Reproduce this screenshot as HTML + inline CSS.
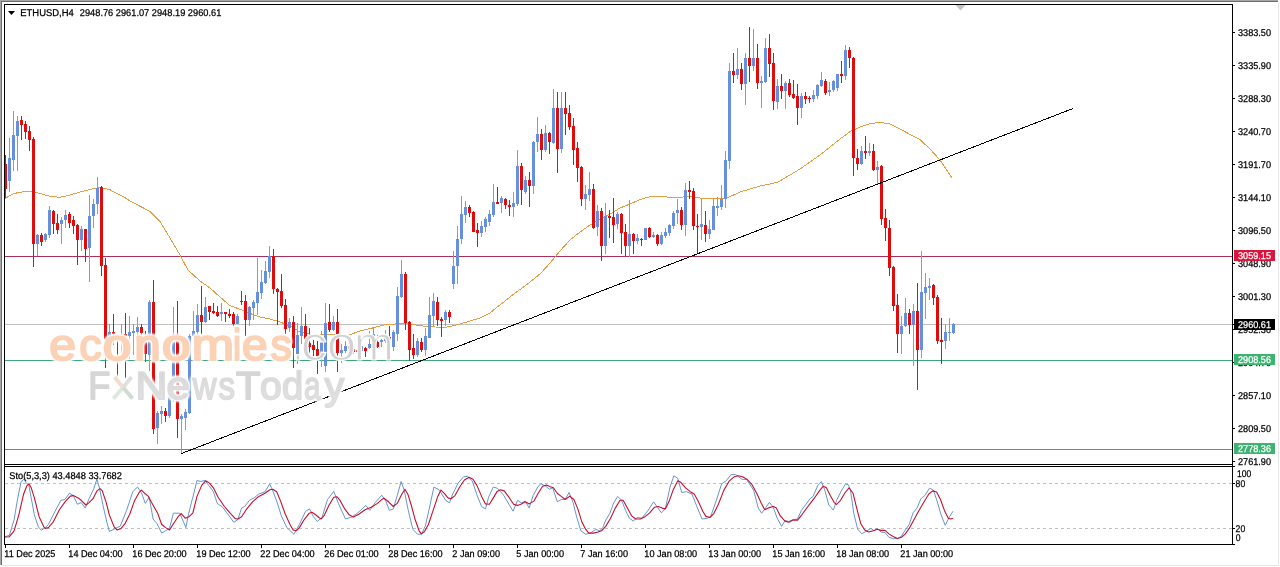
<!DOCTYPE html>
<html><head><meta charset="utf-8"><title>ETHUSD,H4</title>
<style>html,body{margin:0;padding:0;background:#fff;}body{width:1280px;height:567px;overflow:hidden;font-family:"Liberation Sans",sans-serif;}svg{display:block;will-change:transform;}text{font-family:"Liberation Sans",sans-serif;}.t{stroke-width:0.25px;stroke:#000;}.tw{stroke-width:0.25px;stroke:#fff;}</style>
</head><body>
<svg width="1280" height="567" viewBox="0 0 1280 567" text-rendering="geometricPrecision">
<defs>
<linearGradient id="gfx" x1="0" y1="0" x2="0" y2="1"><stop offset="0" stop-color="#d0d0d0"/><stop offset="1" stop-color="#e8e8e8"/></linearGradient>
<clipPath id="cm"><rect x="5" y="5" width="1227" height="459"/></clipPath>
<clipPath id="ci"><rect x="5" y="467" width="1227" height="77"/></clipPath>
<filter id="soft" x="-5%" y="-5%" width="110%" height="110%"><feGaussianBlur stdDeviation="0.45"/></filter>
<filter id="halo" x="-5%" y="-20%" width="110%" height="140%"><feMorphology in="SourceAlpha" operator="dilate" radius="0.9" result="d"/><feGaussianBlur in="d" stdDeviation="0.8" result="b"/><feFlood flood-color="#fff" flood-opacity="1"/><feComposite in2="b" operator="in" result="h"/><feMerge><feMergeNode in="h"/><feMergeNode in="h"/><feMergeNode in="SourceGraphic"/></feMerge></filter>
</defs>
<rect width="1280" height="567" fill="#fff"/>
<g shape-rendering="crispEdges">
<rect x="0" y="0" width="1278" height="1" fill="#a7a7a7"/>
<rect x="0" y="1" width="1278" height="1" fill="#6d6d6d"/>
<rect x="0" y="0" width="1" height="565" fill="#a7a7a7"/>
<rect x="1" y="1" width="1" height="564" fill="#6d6d6d"/>
<rect x="1278" y="2" width="1" height="564" fill="#e6e6e6"/>
<rect x="2" y="565" width="1277" height="1" fill="#e6e6e6"/>
</g>
<g clip-path="url(#cm)">
<g shape-rendering="crispEdges">
<rect x="5" y="324" width="1227" height="1" fill="#c0c0c0"/>
<rect x="5" y="256" width="1227" height="1" fill="#a83058"/>
<rect x="5" y="360" width="1227" height="1" fill="#3fa47a"/>
<rect x="5" y="449" width="1227" height="1" fill="#3fa47a"/>
</g>
<polyline points="5.0,198.5 12.0,194.4 17.5,192.7 25.0,191.5 30.0,191.2 40.0,193.5 50.0,196.4 60.0,197.3 70.0,195.0 80.0,192.0 90.0,189.5 97.6,187.8 105.0,188.5 110.0,189.8 120.0,195.0 125.0,197.7 130.0,201.0 140.0,206.2 150.0,211.5 160.0,221.5 170.0,238.0 180.0,255.0 188.0,270.0 200.0,281.0 210.0,288.0 220.0,297.0 230.0,305.6 240.0,309.3 250.0,313.5 260.0,317.0 270.0,319.0 280.0,322.0 290.0,326.0 300.0,332.0 310.0,334.0 320.0,334.3 335.0,334.4 347.5,335.6 360.0,331.0 372.5,328.0 385.0,324.8 397.5,323.8 410.0,324.0 422.5,326.0 435.0,327.0 445.0,327.2 450.0,326.6 460.0,324.0 470.0,321.0 480.0,318.0 490.0,313.0 496.0,308.0 505.0,301.0 515.0,293.0 525.0,286.0 535.0,278.0 541.0,273.0 550.0,263.0 560.0,251.0 570.0,240.0 580.0,232.0 590.0,225.0 600.0,219.0 610.0,214.0 620.0,208.0 630.0,204.0 640.0,199.6 650.0,196.6 660.0,196.6 670.0,197.2 680.0,197.2 690.0,196.6 700.0,198.0 710.0,198.4 720.0,199.0 727.0,198.0 740.0,192.0 750.0,189.0 760.0,186.0 770.0,184.0 778.0,182.0 790.0,175.0 800.0,169.0 810.0,162.0 820.0,155.0 830.0,147.0 840.0,139.0 850.0,131.6 860.0,127.0 870.0,123.6 880.0,122.4 890.0,124.0 900.0,129.0 910.0,134.4 920.0,139.6 930.0,149.0 940.0,160.0 946.0,169.0 952.0,178.0" fill="none" stroke="#e59e44" stroke-width="1" shape-rendering="crispEdges"/>
<g shape-rendering="crispEdges">
<rect x="5" y="155" width="1" height="43" fill="#c81a1a"/>
<rect x="4" y="164" width="3" height="25" fill="#e00b0b"/>
<rect x="9" y="138" width="1" height="54" fill="#7d9fd8"/>
<rect x="8" y="158" width="3" height="23" fill="#6490de"/>
<rect x="13" y="111" width="1" height="60" fill="#7d9fd8"/>
<rect x="12" y="135" width="3" height="25" fill="#6490de"/>
<rect x="17" y="116" width="1" height="55" fill="#7d9fd8"/>
<rect x="16" y="121" width="3" height="15" fill="#6490de"/>
<rect x="21" y="116" width="1" height="24" fill="#c81a1a"/>
<rect x="20" y="120" width="3" height="5" fill="#e00b0b"/>
<rect x="25" y="121" width="1" height="18" fill="#c81a1a"/>
<rect x="24" y="124" width="3" height="8" fill="#e00b0b"/>
<rect x="29" y="126" width="1" height="25" fill="#c81a1a"/>
<rect x="28" y="131" width="3" height="9" fill="#e00b0b"/>
<rect x="33" y="137" width="1" height="130" fill="#c81a1a"/>
<rect x="32" y="139" width="3" height="105" fill="#e00b0b"/>
<rect x="37" y="234" width="1" height="22" fill="#7d9fd8"/>
<rect x="36" y="235" width="3" height="9" fill="#6490de"/>
<rect x="41" y="233" width="1" height="13" fill="#c81a1a"/>
<rect x="40" y="235" width="3" height="7" fill="#e00b0b"/>
<rect x="45" y="233" width="1" height="9" fill="#7d9fd8"/>
<rect x="44" y="234" width="3" height="6" fill="#6490de"/>
<rect x="49" y="206" width="1" height="32" fill="#7d9fd8"/>
<rect x="48" y="210" width="3" height="25" fill="#6490de"/>
<rect x="53" y="210" width="1" height="24" fill="#c81a1a"/>
<rect x="52" y="211" width="3" height="13" fill="#e00b0b"/>
<rect x="57" y="214" width="1" height="20" fill="#c81a1a"/>
<rect x="56" y="223" width="3" height="7" fill="#e00b0b"/>
<rect x="61" y="217" width="1" height="27" fill="#7d9fd8"/>
<rect x="60" y="220" width="3" height="4" fill="#6490de"/>
<rect x="65" y="210" width="1" height="18" fill="#7d9fd8"/>
<rect x="64" y="215" width="3" height="5" fill="#6490de"/>
<rect x="69" y="212" width="1" height="16" fill="#c81a1a"/>
<rect x="68" y="214" width="3" height="9" fill="#e00b0b"/>
<rect x="73" y="216" width="1" height="18" fill="#c81a1a"/>
<rect x="72" y="220" width="3" height="6" fill="#e00b0b"/>
<rect x="77" y="224" width="1" height="41" fill="#c81a1a"/>
<rect x="76" y="225" width="3" height="15" fill="#e00b0b"/>
<rect x="81" y="226" width="1" height="25" fill="#7d9fd8"/>
<rect x="80" y="229" width="3" height="11" fill="#6490de"/>
<rect x="85" y="229" width="1" height="33" fill="#c81a1a"/>
<rect x="84" y="229" width="3" height="20" fill="#e00b0b"/>
<rect x="89" y="195" width="1" height="87" fill="#7d9fd8"/>
<rect x="88" y="216" width="3" height="32" fill="#6490de"/>
<rect x="93" y="199" width="1" height="29" fill="#7d9fd8"/>
<rect x="92" y="204" width="3" height="12" fill="#6490de"/>
<rect x="97" y="177" width="1" height="37" fill="#7d9fd8"/>
<rect x="96" y="188" width="3" height="16" fill="#6490de"/>
<rect x="101" y="186" width="1" height="90" fill="#c81a1a"/>
<rect x="100" y="187" width="3" height="79" fill="#e00b0b"/>
<rect x="105" y="258" width="1" height="110" fill="#c81a1a"/>
<rect x="104" y="265" width="3" height="74" fill="#e00b0b"/>
<rect x="109" y="324" width="1" height="13" fill="#7d9fd8"/>
<rect x="108" y="332" width="3" height="4" fill="#6490de"/>
<rect x="113" y="314" width="1" height="31" fill="#c81a1a"/>
<rect x="112" y="332" width="3" height="2" fill="#e00b0b"/>
<rect x="117" y="335" width="1" height="45" fill="#c81a1a"/>
<rect x="116" y="336" width="3" height="2" fill="#e00b0b"/>
<rect x="121" y="324" width="1" height="30" fill="#7d9fd8"/>
<rect x="120" y="336" width="3" height="2" fill="#6490de"/>
<rect x="125" y="313" width="1" height="65" fill="#c81a1a"/>
<rect x="124" y="334" width="3" height="2" fill="#e00b0b"/>
<rect x="129" y="316" width="1" height="43" fill="#7d9fd8"/>
<rect x="128" y="332" width="3" height="4" fill="#6490de"/>
<rect x="133" y="324" width="1" height="31" fill="#7d9fd8"/>
<rect x="132" y="331" width="3" height="2" fill="#6490de"/>
<rect x="137" y="317" width="1" height="19" fill="#7d9fd8"/>
<rect x="136" y="327" width="3" height="5" fill="#6490de"/>
<rect x="141" y="324" width="1" height="32" fill="#c81a1a"/>
<rect x="140" y="327" width="3" height="6" fill="#e00b0b"/>
<rect x="145" y="331" width="1" height="31" fill="#c81a1a"/>
<rect x="144" y="342" width="3" height="12" fill="#e00b0b"/>
<rect x="149" y="300" width="1" height="71" fill="#7d9fd8"/>
<rect x="148" y="302" width="3" height="53" fill="#6490de"/>
<rect x="153" y="280" width="1" height="154" fill="#c81a1a"/>
<rect x="152" y="302" width="3" height="127" fill="#e00b0b"/>
<rect x="157" y="411" width="1" height="33" fill="#7d9fd8"/>
<rect x="156" y="413" width="3" height="15" fill="#6490de"/>
<rect x="161" y="406" width="1" height="18" fill="#7d9fd8"/>
<rect x="160" y="411" width="3" height="3" fill="#6490de"/>
<rect x="165" y="408" width="1" height="14" fill="#c81a1a"/>
<rect x="164" y="411" width="3" height="5" fill="#e00b0b"/>
<rect x="169" y="393" width="1" height="25" fill="#7d9fd8"/>
<rect x="168" y="396" width="3" height="20" fill="#6490de"/>
<rect x="173" y="307" width="1" height="95" fill="#7d9fd8"/>
<rect x="172" y="334" width="3" height="43" fill="#6490de"/>
<rect x="177" y="301" width="1" height="137" fill="#c81a1a"/>
<rect x="176" y="334" width="3" height="85" fill="#e00b0b"/>
<rect x="181" y="414" width="1" height="39" fill="#7d9fd8"/>
<rect x="180" y="416" width="3" height="3" fill="#6490de"/>
<rect x="185" y="409" width="1" height="21" fill="#7d9fd8"/>
<rect x="184" y="412" width="3" height="6" fill="#6490de"/>
<rect x="189" y="334" width="1" height="80" fill="#7d9fd8"/>
<rect x="188" y="336" width="3" height="77" fill="#6490de"/>
<rect x="193" y="311" width="1" height="25" fill="#7d9fd8"/>
<rect x="192" y="331" width="3" height="5" fill="#6490de"/>
<rect x="197" y="304" width="1" height="32" fill="#7d9fd8"/>
<rect x="196" y="315" width="3" height="17" fill="#6490de"/>
<rect x="201" y="286" width="1" height="48" fill="#c81a1a"/>
<rect x="200" y="315" width="3" height="7" fill="#e00b0b"/>
<rect x="205" y="297" width="1" height="26" fill="#7d9fd8"/>
<rect x="204" y="307" width="3" height="15" fill="#6490de"/>
<rect x="209" y="306" width="1" height="14" fill="#c81a1a"/>
<rect x="208" y="306" width="3" height="6" fill="#e00b0b"/>
<rect x="213" y="303" width="1" height="11" fill="#c81a1a"/>
<rect x="212" y="311" width="3" height="2" fill="#e00b0b"/>
<rect x="217" y="306" width="1" height="11" fill="#c81a1a"/>
<rect x="216" y="312" width="3" height="4" fill="#e00b0b"/>
<rect x="221" y="303" width="1" height="18" fill="#7d9fd8"/>
<rect x="220" y="312" width="3" height="2" fill="#6490de"/>
<rect x="225" y="312" width="1" height="10" fill="#c81a1a"/>
<rect x="224" y="312" width="3" height="2" fill="#e00b0b"/>
<rect x="229" y="309" width="1" height="9" fill="#c81a1a"/>
<rect x="228" y="314" width="3" height="2" fill="#e00b0b"/>
<rect x="233" y="312" width="1" height="14" fill="#c81a1a"/>
<rect x="232" y="314" width="3" height="10" fill="#e00b0b"/>
<rect x="237" y="314" width="1" height="10" fill="#7d9fd8"/>
<rect x="236" y="316" width="3" height="8" fill="#6490de"/>
<rect x="241" y="291" width="1" height="14" fill="#c81a1a"/>
<rect x="240" y="301" width="3" height="1" fill="#e00b0b"/>
<rect x="245" y="295" width="1" height="41" fill="#c81a1a"/>
<rect x="244" y="301" width="3" height="19" fill="#e00b0b"/>
<rect x="249" y="306" width="1" height="20" fill="#7d9fd8"/>
<rect x="248" y="307" width="3" height="13" fill="#6490de"/>
<rect x="253" y="300" width="1" height="20" fill="#7d9fd8"/>
<rect x="252" y="302" width="3" height="6" fill="#6490de"/>
<rect x="257" y="258" width="1" height="57" fill="#7d9fd8"/>
<rect x="256" y="292" width="3" height="11" fill="#6490de"/>
<rect x="261" y="270" width="1" height="29" fill="#7d9fd8"/>
<rect x="260" y="282" width="3" height="11" fill="#6490de"/>
<rect x="265" y="261" width="1" height="23" fill="#7d9fd8"/>
<rect x="264" y="271" width="3" height="12" fill="#6490de"/>
<rect x="269" y="246" width="1" height="32" fill="#7d9fd8"/>
<rect x="268" y="256" width="3" height="16" fill="#6490de"/>
<rect x="273" y="249" width="1" height="45" fill="#c81a1a"/>
<rect x="272" y="256" width="3" height="33" fill="#e00b0b"/>
<rect x="277" y="288" width="1" height="37" fill="#c81a1a"/>
<rect x="276" y="289" width="3" height="3" fill="#e00b0b"/>
<rect x="281" y="274" width="1" height="34" fill="#c81a1a"/>
<rect x="280" y="291" width="3" height="15" fill="#e00b0b"/>
<rect x="285" y="299" width="1" height="35" fill="#c81a1a"/>
<rect x="284" y="305" width="3" height="24" fill="#e00b0b"/>
<rect x="289" y="318" width="1" height="14" fill="#7d9fd8"/>
<rect x="288" y="322" width="3" height="6" fill="#6490de"/>
<rect x="293" y="316" width="1" height="52" fill="#c81a1a"/>
<rect x="292" y="322" width="3" height="26" fill="#e00b0b"/>
<rect x="297" y="323" width="1" height="41" fill="#7d9fd8"/>
<rect x="296" y="335" width="3" height="19" fill="#6490de"/>
<rect x="301" y="307" width="1" height="37" fill="#7d9fd8"/>
<rect x="300" y="326" width="3" height="10" fill="#6490de"/>
<rect x="305" y="314" width="1" height="26" fill="#c81a1a"/>
<rect x="304" y="326" width="3" height="13" fill="#e00b0b"/>
<rect x="309" y="328" width="1" height="26" fill="#c81a1a"/>
<rect x="308" y="343" width="3" height="4" fill="#e00b0b"/>
<rect x="313" y="340" width="1" height="16" fill="#c81a1a"/>
<rect x="312" y="345" width="3" height="5" fill="#e00b0b"/>
<rect x="317" y="341" width="1" height="33" fill="#c81a1a"/>
<rect x="316" y="349" width="3" height="7" fill="#e00b0b"/>
<rect x="321" y="331" width="1" height="36" fill="#7d9fd8"/>
<rect x="320" y="342" width="3" height="12" fill="#6490de"/>
<rect x="325" y="303" width="1" height="69" fill="#7d9fd8"/>
<rect x="324" y="323" width="3" height="43" fill="#6490de"/>
<rect x="329" y="304" width="1" height="28" fill="#c81a1a"/>
<rect x="328" y="322" width="3" height="8" fill="#e00b0b"/>
<rect x="333" y="316" width="1" height="15" fill="#7d9fd8"/>
<rect x="332" y="322" width="3" height="8" fill="#6490de"/>
<rect x="337" y="309" width="1" height="63" fill="#c81a1a"/>
<rect x="336" y="322" width="3" height="31" fill="#e00b0b"/>
<rect x="341" y="344" width="1" height="19" fill="#7d9fd8"/>
<rect x="340" y="350" width="3" height="3" fill="#6490de"/>
<rect x="345" y="341" width="1" height="12" fill="#7d9fd8"/>
<rect x="344" y="346" width="3" height="5" fill="#6490de"/>
<rect x="349" y="345" width="1" height="5" fill="#c81a1a"/>
<rect x="348" y="346" width="3" height="3" fill="#e00b0b"/>
<rect x="353" y="347" width="1" height="7" fill="#c81a1a"/>
<rect x="352" y="349" width="3" height="3" fill="#e00b0b"/>
<rect x="357" y="348" width="1" height="6" fill="#c81a1a"/>
<rect x="356" y="350" width="3" height="2" fill="#e00b0b"/>
<rect x="361" y="345" width="1" height="7" fill="#7d9fd8"/>
<rect x="360" y="346" width="3" height="5" fill="#6490de"/>
<rect x="365" y="347" width="1" height="10" fill="#c81a1a"/>
<rect x="364" y="348" width="3" height="3" fill="#e00b0b"/>
<rect x="369" y="331" width="1" height="18" fill="#7d9fd8"/>
<rect x="368" y="344" width="3" height="4" fill="#6490de"/>
<rect x="373" y="327" width="1" height="10" fill="#7d9fd8"/>
<rect x="372" y="334" width="3" height="2" fill="#6490de"/>
<rect x="377" y="335" width="1" height="13" fill="#c81a1a"/>
<rect x="376" y="342" width="3" height="5" fill="#e00b0b"/>
<rect x="381" y="339" width="1" height="8" fill="#7d9fd8"/>
<rect x="380" y="340" width="3" height="2" fill="#6490de"/>
<rect x="385" y="330" width="1" height="13" fill="#7d9fd8"/>
<rect x="384" y="338" width="3" height="3" fill="#6490de"/>
<rect x="389" y="326" width="1" height="22" fill="#c81a1a"/>
<rect x="388" y="337" width="3" height="10" fill="#e00b0b"/>
<rect x="393" y="330" width="1" height="21" fill="#7d9fd8"/>
<rect x="392" y="332" width="3" height="15" fill="#6490de"/>
<rect x="397" y="287" width="1" height="54" fill="#7d9fd8"/>
<rect x="396" y="296" width="3" height="38" fill="#6490de"/>
<rect x="401" y="260" width="1" height="38" fill="#7d9fd8"/>
<rect x="400" y="274" width="3" height="23" fill="#6490de"/>
<rect x="405" y="272" width="1" height="58" fill="#c81a1a"/>
<rect x="404" y="274" width="3" height="49" fill="#e00b0b"/>
<rect x="409" y="321" width="1" height="40" fill="#c81a1a"/>
<rect x="408" y="322" width="3" height="28" fill="#e00b0b"/>
<rect x="413" y="334" width="1" height="25" fill="#c81a1a"/>
<rect x="412" y="348" width="3" height="7" fill="#e00b0b"/>
<rect x="417" y="338" width="1" height="19" fill="#7d9fd8"/>
<rect x="416" y="341" width="3" height="14" fill="#6490de"/>
<rect x="421" y="338" width="1" height="14" fill="#c81a1a"/>
<rect x="420" y="342" width="3" height="8" fill="#e00b0b"/>
<rect x="425" y="328" width="1" height="28" fill="#7d9fd8"/>
<rect x="424" y="336" width="3" height="14" fill="#6490de"/>
<rect x="429" y="297" width="1" height="41" fill="#7d9fd8"/>
<rect x="428" y="315" width="3" height="23" fill="#6490de"/>
<rect x="433" y="293" width="1" height="34" fill="#7d9fd8"/>
<rect x="432" y="301" width="3" height="15" fill="#6490de"/>
<rect x="437" y="297" width="1" height="29" fill="#c81a1a"/>
<rect x="436" y="302" width="3" height="18" fill="#e00b0b"/>
<rect x="441" y="317" width="1" height="20" fill="#c81a1a"/>
<rect x="440" y="319" width="3" height="2" fill="#e00b0b"/>
<rect x="445" y="310" width="1" height="16" fill="#7d9fd8"/>
<rect x="444" y="312" width="3" height="8" fill="#6490de"/>
<rect x="449" y="310" width="1" height="13" fill="#c81a1a"/>
<rect x="448" y="312" width="3" height="5" fill="#e00b0b"/>
<rect x="453" y="251" width="1" height="38" fill="#7d9fd8"/>
<rect x="452" y="266" width="3" height="18" fill="#6490de"/>
<rect x="457" y="226" width="1" height="58" fill="#7d9fd8"/>
<rect x="456" y="239" width="3" height="27" fill="#6490de"/>
<rect x="461" y="196" width="1" height="48" fill="#7d9fd8"/>
<rect x="460" y="214" width="3" height="25" fill="#6490de"/>
<rect x="465" y="201" width="1" height="22" fill="#7d9fd8"/>
<rect x="464" y="207" width="3" height="8" fill="#6490de"/>
<rect x="469" y="205" width="1" height="12" fill="#c81a1a"/>
<rect x="468" y="207" width="3" height="6" fill="#e00b0b"/>
<rect x="473" y="211" width="1" height="21" fill="#c81a1a"/>
<rect x="472" y="212" width="3" height="20" fill="#e00b0b"/>
<rect x="477" y="223" width="1" height="24" fill="#c81a1a"/>
<rect x="476" y="230" width="3" height="3" fill="#e00b0b"/>
<rect x="481" y="221" width="1" height="16" fill="#7d9fd8"/>
<rect x="480" y="226" width="3" height="7" fill="#6490de"/>
<rect x="485" y="217" width="1" height="15" fill="#7d9fd8"/>
<rect x="484" y="219" width="3" height="8" fill="#6490de"/>
<rect x="489" y="210" width="1" height="16" fill="#7d9fd8"/>
<rect x="488" y="214" width="3" height="8" fill="#6490de"/>
<rect x="493" y="184" width="1" height="33" fill="#7d9fd8"/>
<rect x="492" y="202" width="3" height="13" fill="#6490de"/>
<rect x="497" y="187" width="1" height="17" fill="#c81a1a"/>
<rect x="496" y="202" width="3" height="2" fill="#e00b0b"/>
<rect x="501" y="196" width="1" height="17" fill="#7d9fd8"/>
<rect x="500" y="198" width="3" height="5" fill="#6490de"/>
<rect x="505" y="198" width="1" height="11" fill="#c81a1a"/>
<rect x="504" y="199" width="3" height="6" fill="#e00b0b"/>
<rect x="509" y="200" width="1" height="16" fill="#c81a1a"/>
<rect x="508" y="205" width="3" height="2" fill="#e00b0b"/>
<rect x="513" y="192" width="1" height="25" fill="#7d9fd8"/>
<rect x="512" y="203" width="3" height="4" fill="#6490de"/>
<rect x="517" y="150" width="1" height="56" fill="#7d9fd8"/>
<rect x="516" y="166" width="3" height="38" fill="#6490de"/>
<rect x="521" y="163" width="1" height="42" fill="#c81a1a"/>
<rect x="520" y="166" width="3" height="24" fill="#e00b0b"/>
<rect x="525" y="176" width="1" height="18" fill="#7d9fd8"/>
<rect x="524" y="180" width="3" height="12" fill="#6490de"/>
<rect x="529" y="172" width="1" height="35" fill="#c81a1a"/>
<rect x="528" y="180" width="3" height="6" fill="#e00b0b"/>
<rect x="533" y="141" width="1" height="53" fill="#7d9fd8"/>
<rect x="532" y="142" width="3" height="44" fill="#6490de"/>
<rect x="537" y="117" width="1" height="35" fill="#7d9fd8"/>
<rect x="536" y="134" width="3" height="8" fill="#6490de"/>
<rect x="541" y="129" width="1" height="31" fill="#c81a1a"/>
<rect x="540" y="134" width="3" height="16" fill="#e00b0b"/>
<rect x="545" y="125" width="1" height="27" fill="#7d9fd8"/>
<rect x="544" y="133" width="3" height="17" fill="#6490de"/>
<rect x="549" y="132" width="1" height="22" fill="#c81a1a"/>
<rect x="548" y="133" width="3" height="9" fill="#e00b0b"/>
<rect x="553" y="89" width="1" height="55" fill="#7d9fd8"/>
<rect x="552" y="108" width="3" height="35" fill="#6490de"/>
<rect x="557" y="92" width="1" height="81" fill="#c81a1a"/>
<rect x="556" y="108" width="3" height="41" fill="#e00b0b"/>
<rect x="561" y="92" width="1" height="61" fill="#7d9fd8"/>
<rect x="560" y="108" width="3" height="41" fill="#6490de"/>
<rect x="565" y="92" width="1" height="43" fill="#c81a1a"/>
<rect x="564" y="108" width="3" height="6" fill="#e00b0b"/>
<rect x="569" y="105" width="1" height="25" fill="#c81a1a"/>
<rect x="568" y="113" width="3" height="14" fill="#e00b0b"/>
<rect x="573" y="118" width="1" height="47" fill="#c81a1a"/>
<rect x="572" y="126" width="3" height="24" fill="#e00b0b"/>
<rect x="577" y="142" width="1" height="40" fill="#c81a1a"/>
<rect x="576" y="148" width="3" height="20" fill="#e00b0b"/>
<rect x="581" y="166" width="1" height="40" fill="#c81a1a"/>
<rect x="580" y="167" width="3" height="32" fill="#e00b0b"/>
<rect x="585" y="185" width="1" height="25" fill="#7d9fd8"/>
<rect x="584" y="194" width="3" height="5" fill="#6490de"/>
<rect x="589" y="172" width="1" height="29" fill="#7d9fd8"/>
<rect x="588" y="189" width="3" height="6" fill="#6490de"/>
<rect x="593" y="184" width="1" height="45" fill="#c81a1a"/>
<rect x="592" y="189" width="3" height="39" fill="#e00b0b"/>
<rect x="597" y="205" width="1" height="31" fill="#7d9fd8"/>
<rect x="596" y="211" width="3" height="16" fill="#6490de"/>
<rect x="601" y="208" width="1" height="53" fill="#c81a1a"/>
<rect x="600" y="211" width="3" height="35" fill="#e00b0b"/>
<rect x="605" y="203" width="1" height="51" fill="#7d9fd8"/>
<rect x="604" y="216" width="3" height="30" fill="#6490de"/>
<rect x="609" y="210" width="1" height="28" fill="#c81a1a"/>
<rect x="608" y="216" width="3" height="2" fill="#e00b0b"/>
<rect x="613" y="198" width="1" height="45" fill="#c81a1a"/>
<rect x="612" y="217" width="3" height="8" fill="#e00b0b"/>
<rect x="617" y="212" width="1" height="17" fill="#7d9fd8"/>
<rect x="616" y="214" width="3" height="10" fill="#6490de"/>
<rect x="621" y="213" width="1" height="41" fill="#c81a1a"/>
<rect x="620" y="214" width="3" height="19" fill="#e00b0b"/>
<rect x="625" y="224" width="1" height="32" fill="#c81a1a"/>
<rect x="624" y="232" width="3" height="14" fill="#e00b0b"/>
<rect x="629" y="200" width="1" height="57" fill="#7d9fd8"/>
<rect x="628" y="234" width="3" height="12" fill="#6490de"/>
<rect x="633" y="233" width="1" height="21" fill="#c81a1a"/>
<rect x="632" y="234" width="3" height="7" fill="#e00b0b"/>
<rect x="637" y="234" width="1" height="10" fill="#7d9fd8"/>
<rect x="636" y="238" width="3" height="3" fill="#6490de"/>
<rect x="641" y="238" width="1" height="8" fill="#c81a1a"/>
<rect x="640" y="239" width="3" height="1" fill="#e00b0b"/>
<rect x="645" y="228" width="1" height="12" fill="#7d9fd8"/>
<rect x="644" y="228" width="3" height="12" fill="#6490de"/>
<rect x="649" y="227" width="1" height="11" fill="#c81a1a"/>
<rect x="648" y="228" width="3" height="9" fill="#e00b0b"/>
<rect x="653" y="232" width="1" height="6" fill="#7d9fd8"/>
<rect x="652" y="235" width="3" height="2" fill="#6490de"/>
<rect x="657" y="234" width="1" height="12" fill="#c81a1a"/>
<rect x="656" y="235" width="3" height="9" fill="#e00b0b"/>
<rect x="661" y="232" width="1" height="13" fill="#7d9fd8"/>
<rect x="660" y="235" width="3" height="9" fill="#6490de"/>
<rect x="665" y="228" width="1" height="10" fill="#7d9fd8"/>
<rect x="664" y="232" width="3" height="4" fill="#6490de"/>
<rect x="669" y="224" width="1" height="12" fill="#7d9fd8"/>
<rect x="668" y="225" width="3" height="8" fill="#6490de"/>
<rect x="673" y="211" width="1" height="18" fill="#7d9fd8"/>
<rect x="672" y="213" width="3" height="13" fill="#6490de"/>
<rect x="677" y="199" width="1" height="25" fill="#7d9fd8"/>
<rect x="676" y="210" width="3" height="3" fill="#6490de"/>
<rect x="681" y="207" width="1" height="23" fill="#c81a1a"/>
<rect x="680" y="210" width="3" height="15" fill="#e00b0b"/>
<rect x="685" y="183" width="1" height="53" fill="#7d9fd8"/>
<rect x="684" y="190" width="3" height="35" fill="#6490de"/>
<rect x="689" y="181" width="1" height="18" fill="#c81a1a"/>
<rect x="688" y="190" width="3" height="2" fill="#e00b0b"/>
<rect x="693" y="188" width="1" height="42" fill="#c81a1a"/>
<rect x="692" y="191" width="3" height="35" fill="#e00b0b"/>
<rect x="697" y="214" width="1" height="39" fill="#c81a1a"/>
<rect x="696" y="226" width="3" height="1" fill="#e00b0b"/>
<rect x="701" y="199" width="1" height="41" fill="#7d9fd8"/>
<rect x="700" y="224" width="3" height="3" fill="#6490de"/>
<rect x="705" y="211" width="1" height="31" fill="#c81a1a"/>
<rect x="704" y="225" width="3" height="9" fill="#e00b0b"/>
<rect x="709" y="220" width="1" height="19" fill="#7d9fd8"/>
<rect x="708" y="229" width="3" height="5" fill="#6490de"/>
<rect x="713" y="198" width="1" height="32" fill="#7d9fd8"/>
<rect x="712" y="206" width="3" height="24" fill="#6490de"/>
<rect x="717" y="197" width="1" height="19" fill="#7d9fd8"/>
<rect x="716" y="206" width="3" height="2" fill="#6490de"/>
<rect x="721" y="185" width="1" height="25" fill="#7d9fd8"/>
<rect x="720" y="199" width="3" height="8" fill="#6490de"/>
<rect x="725" y="151" width="1" height="57" fill="#7d9fd8"/>
<rect x="724" y="160" width="3" height="39" fill="#6490de"/>
<rect x="729" y="63" width="1" height="106" fill="#7d9fd8"/>
<rect x="728" y="71" width="3" height="90" fill="#6490de"/>
<rect x="733" y="53" width="1" height="30" fill="#c81a1a"/>
<rect x="732" y="71" width="3" height="4" fill="#e00b0b"/>
<rect x="737" y="48" width="1" height="31" fill="#7d9fd8"/>
<rect x="736" y="69" width="3" height="6" fill="#6490de"/>
<rect x="741" y="63" width="1" height="27" fill="#c81a1a"/>
<rect x="740" y="69" width="3" height="15" fill="#e00b0b"/>
<rect x="745" y="53" width="1" height="52" fill="#7d9fd8"/>
<rect x="744" y="58" width="3" height="26" fill="#6490de"/>
<rect x="749" y="27" width="1" height="55" fill="#c81a1a"/>
<rect x="748" y="58" width="3" height="8" fill="#e00b0b"/>
<rect x="753" y="29" width="1" height="42" fill="#7d9fd8"/>
<rect x="752" y="58" width="3" height="8" fill="#6490de"/>
<rect x="757" y="44" width="1" height="45" fill="#c81a1a"/>
<rect x="756" y="58" width="3" height="25" fill="#e00b0b"/>
<rect x="761" y="76" width="1" height="32" fill="#7d9fd8"/>
<rect x="760" y="81" width="3" height="2" fill="#6490de"/>
<rect x="765" y="38" width="1" height="45" fill="#7d9fd8"/>
<rect x="764" y="48" width="3" height="34" fill="#6490de"/>
<rect x="769" y="34" width="1" height="43" fill="#c81a1a"/>
<rect x="768" y="48" width="3" height="16" fill="#e00b0b"/>
<rect x="773" y="53" width="1" height="57" fill="#c81a1a"/>
<rect x="772" y="63" width="3" height="38" fill="#e00b0b"/>
<rect x="777" y="79" width="1" height="30" fill="#7d9fd8"/>
<rect x="776" y="86" width="3" height="16" fill="#6490de"/>
<rect x="781" y="74" width="1" height="25" fill="#c81a1a"/>
<rect x="780" y="86" width="3" height="5" fill="#e00b0b"/>
<rect x="785" y="81" width="1" height="28" fill="#7d9fd8"/>
<rect x="784" y="83" width="3" height="8" fill="#6490de"/>
<rect x="789" y="79" width="1" height="18" fill="#c81a1a"/>
<rect x="788" y="83" width="3" height="12" fill="#e00b0b"/>
<rect x="793" y="80" width="1" height="19" fill="#c81a1a"/>
<rect x="792" y="94" width="3" height="4" fill="#e00b0b"/>
<rect x="797" y="84" width="1" height="41" fill="#c81a1a"/>
<rect x="796" y="96" width="3" height="12" fill="#e00b0b"/>
<rect x="801" y="93" width="1" height="25" fill="#7d9fd8"/>
<rect x="800" y="96" width="3" height="12" fill="#6490de"/>
<rect x="805" y="92" width="1" height="12" fill="#c81a1a"/>
<rect x="804" y="96" width="3" height="3" fill="#e00b0b"/>
<rect x="809" y="96" width="1" height="7" fill="#c81a1a"/>
<rect x="808" y="98" width="3" height="1" fill="#e00b0b"/>
<rect x="813" y="90" width="1" height="12" fill="#7d9fd8"/>
<rect x="812" y="95" width="3" height="4" fill="#6490de"/>
<rect x="817" y="84" width="1" height="15" fill="#7d9fd8"/>
<rect x="816" y="85" width="3" height="11" fill="#6490de"/>
<rect x="821" y="72" width="1" height="15" fill="#7d9fd8"/>
<rect x="820" y="80" width="3" height="6" fill="#6490de"/>
<rect x="825" y="79" width="1" height="16" fill="#c81a1a"/>
<rect x="824" y="81" width="3" height="12" fill="#e00b0b"/>
<rect x="829" y="82" width="1" height="14" fill="#7d9fd8"/>
<rect x="828" y="90" width="3" height="2" fill="#6490de"/>
<rect x="833" y="80" width="1" height="12" fill="#7d9fd8"/>
<rect x="832" y="81" width="3" height="9" fill="#6490de"/>
<rect x="837" y="74" width="1" height="17" fill="#7d9fd8"/>
<rect x="836" y="74" width="3" height="14" fill="#6490de"/>
<rect x="841" y="61" width="1" height="22" fill="#c81a1a"/>
<rect x="840" y="74" width="3" height="2" fill="#e00b0b"/>
<rect x="845" y="45" width="1" height="35" fill="#7d9fd8"/>
<rect x="844" y="50" width="3" height="26" fill="#6490de"/>
<rect x="849" y="47" width="1" height="21" fill="#c81a1a"/>
<rect x="848" y="50" width="3" height="8" fill="#e00b0b"/>
<rect x="853" y="57" width="1" height="119" fill="#c81a1a"/>
<rect x="852" y="58" width="3" height="100" fill="#e00b0b"/>
<rect x="857" y="149" width="1" height="21" fill="#c81a1a"/>
<rect x="856" y="158" width="3" height="6" fill="#e00b0b"/>
<rect x="861" y="146" width="1" height="19" fill="#7d9fd8"/>
<rect x="860" y="151" width="3" height="13" fill="#6490de"/>
<rect x="865" y="136" width="1" height="23" fill="#c81a1a"/>
<rect x="864" y="151" width="3" height="2" fill="#e00b0b"/>
<rect x="869" y="143" width="1" height="13" fill="#7d9fd8"/>
<rect x="868" y="151" width="3" height="2" fill="#6490de"/>
<rect x="873" y="144" width="1" height="27" fill="#c81a1a"/>
<rect x="872" y="151" width="3" height="19" fill="#e00b0b"/>
<rect x="877" y="161" width="1" height="23" fill="#7d9fd8"/>
<rect x="876" y="167" width="3" height="3" fill="#6490de"/>
<rect x="881" y="165" width="1" height="60" fill="#c81a1a"/>
<rect x="880" y="166" width="3" height="53" fill="#e00b0b"/>
<rect x="885" y="209" width="1" height="32" fill="#c81a1a"/>
<rect x="884" y="218" width="3" height="10" fill="#e00b0b"/>
<rect x="889" y="220" width="1" height="56" fill="#c81a1a"/>
<rect x="888" y="228" width="3" height="40" fill="#e00b0b"/>
<rect x="893" y="266" width="1" height="45" fill="#c81a1a"/>
<rect x="892" y="267" width="3" height="39" fill="#e00b0b"/>
<rect x="897" y="294" width="1" height="59" fill="#c81a1a"/>
<rect x="896" y="305" width="3" height="29" fill="#e00b0b"/>
<rect x="901" y="316" width="1" height="38" fill="#7d9fd8"/>
<rect x="900" y="326" width="3" height="8" fill="#6490de"/>
<rect x="905" y="298" width="1" height="29" fill="#7d9fd8"/>
<rect x="904" y="313" width="3" height="13" fill="#6490de"/>
<rect x="909" y="309" width="1" height="25" fill="#c81a1a"/>
<rect x="908" y="313" width="3" height="12" fill="#e00b0b"/>
<rect x="913" y="304" width="1" height="62" fill="#7d9fd8"/>
<rect x="912" y="311" width="3" height="14" fill="#6490de"/>
<rect x="917" y="283" width="1" height="107" fill="#c81a1a"/>
<rect x="916" y="311" width="3" height="39" fill="#e00b0b"/>
<rect x="921" y="251" width="1" height="107" fill="#7d9fd8"/>
<rect x="920" y="292" width="3" height="58" fill="#6490de"/>
<rect x="925" y="273" width="1" height="46" fill="#7d9fd8"/>
<rect x="924" y="287" width="3" height="6" fill="#6490de"/>
<rect x="929" y="278" width="1" height="22" fill="#7d9fd8"/>
<rect x="928" y="286" width="3" height="2" fill="#6490de"/>
<rect x="933" y="284" width="1" height="21" fill="#c81a1a"/>
<rect x="932" y="285" width="3" height="13" fill="#e00b0b"/>
<rect x="937" y="295" width="1" height="49" fill="#c81a1a"/>
<rect x="936" y="297" width="3" height="44" fill="#e00b0b"/>
<rect x="941" y="318" width="1" height="46" fill="#c81a1a"/>
<rect x="940" y="340" width="3" height="2" fill="#e00b0b"/>
<rect x="945" y="324" width="1" height="25" fill="#7d9fd8"/>
<rect x="944" y="332" width="3" height="9" fill="#6490de"/>
<rect x="949" y="318" width="1" height="23" fill="#7d9fd8"/>
<rect x="948" y="332" width="3" height="1" fill="#6490de"/>
<rect x="953" y="323" width="1" height="11" fill="#7d9fd8"/>
<rect x="952" y="324" width="3" height="9" fill="#6490de"/>
</g>
<line x1="181.5" y1="453.5" x2="1073" y2="108.5" stroke="#000" stroke-width="1" shape-rendering="crispEdges"/>
<path d="M955.5 5 L965.5 5 L960.5 10.5 Z" fill="#c4c4c4"/>
</g>
<g filter="url(#halo)">
<g font-size="44.3" fill="#fbd2b6" stroke="#fbd2b6" stroke-width="2" stroke-linejoin="round">
<text transform="translate(49.22,360) scale(1.083,1)">e</text>
<text transform="translate(79.2,360) scale(1.005,1)">c</text>
<text transform="translate(102.83,360) scale(1.165,1)">o</text>
<text transform="translate(134.25,360) scale(1.076,1)">n</text>
<text transform="translate(161.83,360) scale(1.174,1)">o</text>
<text transform="translate(191.7,360) scale(1.148,1)">m</text>
<text transform="translate(233.07,360) scale(0.817,1)">i</text>
<text transform="translate(242.06,360) scale(1.039,1)">e</text>
<text transform="translate(270.6,360) scale(0.959,1)">s</text>
</g>
<g font-size="39" fill="url(#gfx)" stroke="#dcdcdc" stroke-width="1.8" stroke-linejoin="round">
<text transform="translate(88.15,398.6) scale(0.924,1)" fill="#d6d6d6" stroke="#d6d6d6">F</text>
<text transform="translate(135.21,398.6) scale(1.146,1)">N</text>
<text transform="translate(166.42,398.6) scale(1.075,1)">e</text>
<text transform="translate(192.84,398.6) scale(0.84,1)">w</text>
<text transform="translate(218.5,398.6) scale(0.847,1)">s</text>
<text transform="translate(235.9,398.6) scale(1.021,1)" fill="#d6d6d6" stroke="#d6d6d6">T</text>
<text transform="translate(260.0,398.6) scale(1.0,1)">o</text>
<text transform="translate(282.02,398.6) scale(0.979,1)">d</text>
<text transform="translate(304.04,398.6) scale(0.764,1)">a</text>
<text transform="translate(324.51,398.6) scale(1.014,1)">y</text>
</g>
<g fill="none" stroke-width="3.9" stroke-linecap="butt">
<path d="M114.5 377 L123 387.5" stroke="#f5dccd"/>
<path d="M131.5 377 L123 387.5" stroke="#e0e0e0"/>
<path d="M123 387.5 L113.5 398.5" stroke="#dde6df"/>
<path d="M123 387.5 L132.5 398.5" stroke="#cddbd1"/>
</g>
</g>
<g font-size="48" fill="#d2d2d2" stroke="#fff" stroke-width="1.2">
<text transform="translate(292.94,360) scale(0.74,1)">.</text>
<text transform="translate(300.69,360) scale(1.105,1)">c</text>
<text transform="translate(326.7,360) scale(1.1,1)">o</text>
<text transform="translate(354.02,360) scale(0.994,1)">m</text>
</g>
<g shape-rendering="crispEdges" fill="#000">
<rect x="4" y="4" width="1229" height="1"/>
<rect x="4" y="464" width="1229" height="1"/>
<rect x="4" y="466" width="1229" height="1"/>
<rect x="4" y="544" width="1229" height="1"/>
<rect x="4" y="4" width="1" height="541"/>
<rect x="1232" y="4" width="1" height="541"/>
</g>
<path d="M8 11 L15 11 L11.5 15 Z" fill="#000"/>
<text x="20.3" y="16" font-size="9.8" class="t" textLength="53.5" lengthAdjust="spacingAndGlyphs" fill="#000">ETHUSD,H4</text>
<text x="79.8" y="16" font-size="9.8" class="t" textLength="141.5" lengthAdjust="spacingAndGlyphs" fill="#000">2948.76 2961.07 2948.19 2960.61</text>
<g shape-rendering="crispEdges" fill="#000">
<rect x="1233" y="32" width="2" height="1"/>
<rect x="1233" y="65" width="2" height="1"/>
<rect x="1233" y="98" width="2" height="1"/>
<rect x="1233" y="131" width="2" height="1"/>
<rect x="1233" y="164" width="2" height="1"/>
<rect x="1233" y="197" width="2" height="1"/>
<rect x="1233" y="230" width="2" height="1"/>
<rect x="1233" y="263" width="2" height="1"/>
<rect x="1233" y="296" width="2" height="1"/>
<rect x="1233" y="329" width="2" height="1"/>
<rect x="1233" y="362" width="2" height="1"/>
<rect x="1233" y="395" width="2" height="1"/>
<rect x="1233" y="428" width="2" height="1"/>
<rect x="1233" y="461" width="2" height="1"/>
</g>
<text x="1238" y="36" font-size="9.8" class="t" textLength="33" lengthAdjust="spacingAndGlyphs" fill="#000">3383.50</text>
<text x="1238" y="69" font-size="9.8" class="t" textLength="33" lengthAdjust="spacingAndGlyphs" fill="#000">3335.90</text>
<text x="1238" y="102" font-size="9.8" class="t" textLength="33" lengthAdjust="spacingAndGlyphs" fill="#000">3288.30</text>
<text x="1238" y="135" font-size="9.8" class="t" textLength="33" lengthAdjust="spacingAndGlyphs" fill="#000">3240.70</text>
<text x="1238" y="168" font-size="9.8" class="t" textLength="33" lengthAdjust="spacingAndGlyphs" fill="#000">3191.70</text>
<text x="1238" y="201" font-size="9.8" class="t" textLength="33" lengthAdjust="spacingAndGlyphs" fill="#000">3144.10</text>
<text x="1238" y="234" font-size="9.8" class="t" textLength="33" lengthAdjust="spacingAndGlyphs" fill="#000">3096.50</text>
<text x="1238" y="267" font-size="9.8" class="t" textLength="33" lengthAdjust="spacingAndGlyphs" fill="#000">3048.90</text>
<text x="1238" y="300" font-size="9.8" class="t" textLength="33" lengthAdjust="spacingAndGlyphs" fill="#000">3001.30</text>
<text x="1238" y="333" font-size="9.8" class="t" textLength="33" lengthAdjust="spacingAndGlyphs" fill="#000">2952.30</text>
<text x="1238" y="366" font-size="9.8" class="t" textLength="33" lengthAdjust="spacingAndGlyphs" fill="#000">2904.70</text>
<text x="1238" y="399" font-size="9.8" class="t" textLength="33" lengthAdjust="spacingAndGlyphs" fill="#000">2857.10</text>
<text x="1238" y="432" font-size="9.8" class="t" textLength="33" lengthAdjust="spacingAndGlyphs" fill="#000">2809.50</text>
<text x="1238" y="465" font-size="9.8" class="t" textLength="33" lengthAdjust="spacingAndGlyphs" fill="#000">2761.90</text>
<rect x="1234" y="250" width="41" height="11" fill="#dc143c" shape-rendering="crispEdges"/>
<text x="1238" y="259" font-size="9.8" class="tw" textLength="33" lengthAdjust="spacingAndGlyphs" fill="#fff">3059.15</text>
<rect x="1234" y="319" width="41" height="11" fill="#000" shape-rendering="crispEdges"/>
<text x="1238" y="328" font-size="9.8" class="tw" textLength="33" lengthAdjust="spacingAndGlyphs" fill="#fff">2960.61</text>
<rect x="1234" y="354" width="41" height="11" fill="#3cb371" shape-rendering="crispEdges"/>
<text x="1238" y="363" font-size="9.8" class="tw" textLength="33" lengthAdjust="spacingAndGlyphs" fill="#fff">2908.56</text>
<rect x="1234" y="443" width="41" height="11" fill="#3cb371" shape-rendering="crispEdges"/>
<text x="1238" y="452" font-size="9.8" class="tw" textLength="33" lengthAdjust="spacingAndGlyphs" fill="#fff">2778.36</text>
<rect x="1233" y="324" width="2" height="1" fill="#000" shape-rendering="crispEdges"/>
<g clip-path="url(#ci)">
<g stroke="#c0c0c0" stroke-width="1" stroke-dasharray="3,3" shape-rendering="crispEdges"><line x1="5" y1="483.5" x2="1232" y2="483.5"/><line x1="5" y1="528.5" x2="1232" y2="528.5"/></g>
<polyline points="4.7,536.7 9.4,535.4 14.1,519.8 17.2,501.1 21.1,481.5 24.2,479.2 25.8,482.3 28.9,485.4 31.2,497.9 34.4,515.1 38.3,526.8 41.4,530.3 45.3,527.6 48.4,524.5 54.7,512.0 60.9,500.3 64.8,499.5 69.5,493.2 73.4,495.6 77.3,504.2 81.2,502.6 85.2,508.1 89.1,498.7 93.8,488.6 96.9,479.2 99.2,487.0 103.1,505.8 107.0,522.9 109.4,531.5 114.1,529.2 120.3,526.1 126.6,510.4 132.8,491.7 137.5,487.0 141.4,492.5 145.3,503.4 149.2,497.2 153.1,519.0 157.0,523.7 161.7,533.1 165.6,530.8 169.5,528.4 173.4,513.2 179.7,513.2 183.6,522.2 185.9,527.6 188.3,515.1 192.2,499.5 192.3,499.5 197.0,480.4 200.9,481.5 204.8,480.4 208.8,485.4 213.4,491.7 217.3,503.4 222.8,507.3 229.1,515.9 233.8,522.2 237.7,519.8 241.6,508.1 244.7,506.5 249.4,500.3 254.1,497.9 258.8,494.0 265.0,491.7 269.7,483.9 272.8,490.9 276.7,501.1 281.4,515.9 286.9,527.6 293.9,534.2 299.4,524.5 305.6,511.2 309.5,508.9 313.4,516.7 317.3,521.4 322.0,517.5 327.5,499.5 333.8,491.4 338.4,503.4 345.5,519.0 352.5,516.7 358.8,512.0 365.8,505.4 369.7,510.4 375.2,502.6 381.4,495.6 381.6,495.1 385.5,500.3 389.4,510.4 393.3,508.9 397.2,495.6 401.1,481.5 404.2,490.1 408.1,509.7 412.8,529.2 417.5,534.2 421.4,534.2 425.3,526.1 429.2,508.9 433.9,487.0 439.4,490.1 445.6,500.3 449.5,502.9 452.7,494.0 458.1,483.1 463.6,476.8 467.5,476.4 472.2,480.8 476.9,494.8 481.6,506.5 485.5,508.9 488.6,497.2 493.3,487.0 497.2,488.2 503.4,494.8 508.9,504.2 513.1,511.2 517.5,500.3 521.4,502.9 525.3,501.1 529.2,508.1 533.1,495.6 537.8,487.0 540.9,483.6 545.6,486.2 549.5,489.3 552.7,487.8 557.3,501.8 561.2,499.5 565.2,499.2 569.1,492.5 573.1,502.6 577.0,518.2 580.9,530.8 585.6,534.2 590.3,533.1 595.8,529.5 599.7,530.8 602.8,527.6 605.9,519.8 609.8,513.6 613.8,502.6 617.7,496.4 621.6,500.3 625.5,510.4 629.4,518.2 633.3,521.1 637.2,517.5 641.9,518.2 648.1,510.4 653.6,501.8 657.5,507.3 661.4,512.8 665.3,508.9 670.0,487.0 673.9,475.8 677.8,478.4 681.7,492.5 686.4,491.7 691.9,494.0 696.6,505.8 702.0,519.0 707.5,518.2 710.6,516.7 716.1,501.1 721.6,483.9 726.2,480.8 730.9,474.8 735.6,474.5 741.9,479.2 746.6,479.5 753.6,490.1 758.3,508.1 761.6,513.2 765.5,508.1 769.4,502.3 773.3,507.3 777.2,518.2 781.6,526.4 785.0,520.6 788.9,521.4 792.8,519.8 797.5,519.0 801.4,510.4 806.1,504.2 810.0,498.7 813.1,496.4 817.8,485.4 821.4,481.5 824.8,490.1 828.8,505.0 833.4,510.1 836.6,500.3 841.2,490.9 845.6,483.9 848.3,484.7 850.6,490.9 853.8,513.6 857.7,529.2 861.6,533.6 866.2,531.5 870.9,528.4 874.1,530.8 877.2,528.4 881.1,532.0 885.0,532.6 888.9,537.3 893.6,538.6 897.5,538.6 901.4,536.2 905.3,530.0 909.2,524.5 913.1,512.8 917.0,508.1 920.9,498.7 924.8,495.6 929.5,488.2 933.4,490.1 937.3,501.8 941.2,515.1 945.2,525.3 949.1,517.5 953.0,511.2" fill="none" stroke="#6596d3" stroke-width="1" stroke-linejoin="round"/>
<polyline points="4.7,537.0 9.4,536.7 14.1,530.8 18.8,515.1 23.4,494.8 26.6,486.2 28.9,483.9 31.2,487.8 34.4,497.9 39.1,516.7 43.8,526.8 45.3,528.4 48.4,527.6 53.1,522.2 59.4,509.7 65.6,501.1 70.3,496.1 73.4,495.6 78.1,497.9 81.2,500.3 85.9,505.0 89.1,502.6 93.0,498.7 96.9,490.9 100.0,488.6 102.3,490.9 106.2,502.6 109.4,515.1 114.1,526.8 117.2,530.0 121.1,528.4 125.0,523.7 129.7,514.3 134.4,501.1 139.1,492.5 141.4,490.1 144.5,493.2 148.4,496.4 151.6,502.6 157.8,513.6 161.7,524.5 165.6,527.6 169.5,530.0 173.4,523.7 178.1,516.7 181.2,513.6 185.2,518.2 189.1,516.7 193.0,512.8 193.1,512.0 197.0,496.4 201.7,485.4 205.6,480.8 209.5,483.1 213.4,487.8 218.1,497.2 224.4,506.5 230.6,513.6 235.3,518.6 237.7,519.0 241.6,516.7 246.2,509.7 252.5,501.8 258.8,496.4 265.0,493.2 269.7,489.8 272.8,489.3 276.7,491.7 280.6,501.1 285.3,514.3 290.0,524.5 293.1,530.0 296.2,530.8 299.4,527.6 304.1,519.8 308.8,513.6 311.9,512.3 315.0,514.3 318.9,517.5 321.2,519.0 324.4,515.1 329.1,505.0 333.8,497.2 336.9,496.7 340.0,500.3 344.7,508.9 349.4,515.1 353.3,517.0 358.8,514.3 365.0,509.7 371.2,507.3 377.5,503.4 382.2,499.2 383.9,498.2 388.6,501.8 393.3,506.5 397.2,503.4 401.9,494.0 405.0,489.3 408.1,494.8 411.2,505.0 415.2,519.8 419.1,530.8 421.4,533.9 424.5,531.5 428.4,524.5 433.1,510.4 437.8,496.4 440.9,490.1 444.1,493.2 448.0,497.9 451.1,498.7 455.0,495.6 459.7,487.0 464.4,480.0 469.1,477.3 473.0,479.2 476.9,485.4 481.6,496.4 485.5,503.9 489.4,504.2 493.3,497.9 497.2,491.4 500.3,489.8 504.2,490.9 508.9,497.2 513.6,504.2 517.5,505.4 521.4,503.9 525.3,501.8 529.2,503.9 533.9,501.1 537.8,494.0 542.5,486.2 546.4,485.1 550.3,486.7 553.4,487.8 557.3,493.2 561.2,496.4 565.2,499.5 569.8,496.1 573.9,499.5 577.8,508.9 581.7,521.4 585.6,529.2 588.8,533.1 593.4,533.1 598.1,532.0 602.0,530.4 605.9,526.1 610.6,518.2 615.3,508.1 620.0,500.3 623.1,500.3 627.0,507.3 631.7,515.9 635.6,519.0 640.3,519.0 645.0,516.7 649.7,512.8 654.4,507.3 658.3,506.5 662.2,508.1 665.3,508.9 669.2,501.1 673.1,490.1 677.8,480.8 680.9,482.3 685.6,487.8 690.3,491.7 694.2,494.0 698.1,501.1 702.8,511.2 705.9,516.4 709.8,517.5 713.8,513.6 718.4,504.2 723.9,490.1 729.4,480.8 734.1,476.8 738.0,475.8 742.7,476.8 747.3,479.5 752.0,484.7 756.7,493.2 761.4,503.4 764.7,509.7 769.4,507.6 773.3,506.5 776.4,508.1 780.3,515.9 785.0,521.1 788.9,522.2 792.8,520.1 797.5,520.1 802.2,514.3 808.4,505.8 813.9,498.7 819.4,490.9 823.3,486.2 826.4,487.8 830.3,495.6 834.2,502.6 836.6,504.5 840.5,500.3 845.2,492.5 849.1,487.8 853.0,493.2 856.9,508.9 860.8,523.7 864.7,530.0 868.6,532.0 873.3,530.8 877.2,529.2 881.1,530.4 885.0,530.4 888.9,533.9 893.6,536.7 897.5,538.6 901.4,537.3 905.3,533.9 909.2,528.4 913.9,519.8 919.4,509.7 924.1,501.8 928.8,494.0 932.7,490.9 936.6,492.0 940.5,499.5 944.4,510.4 948.3,518.2 950.6,519.0 953.0,518.2" fill="none" stroke="#c4102c" stroke-width="1.1" stroke-linejoin="round"/>
</g>
<text x="9.3" y="479" font-size="9.8" class="t" textLength="112.5" lengthAdjust="spacingAndGlyphs" fill="#000">Sto(5,3,3) 43.4848 33.7682</text>
<text x="1237" y="477" font-size="9.8" class="t" textLength="14.2" lengthAdjust="spacingAndGlyphs" fill="#000">100</text>
<text x="1235.6" y="487" font-size="9.8" class="t" textLength="9.6" lengthAdjust="spacingAndGlyphs" fill="#000">80</text>
<text x="1235.6" y="532" font-size="9.8" class="t" textLength="9.6" lengthAdjust="spacingAndGlyphs" fill="#000">20</text>
<text x="1235.8" y="541" font-size="9.8" class="t" textLength="4.8" lengthAdjust="spacingAndGlyphs" fill="#000">0</text>
<rect x="1233" y="483" width="2" height="1" fill="#000" shape-rendering="crispEdges"/>
<rect x="1233" y="528" width="2" height="1" fill="#000" shape-rendering="crispEdges"/>
<rect x="1233" y="466" width="2" height="1" fill="#000" shape-rendering="crispEdges"/>
<rect x="1233" y="544" width="2" height="1" fill="#000" shape-rendering="crispEdges"/>
<g shape-rendering="crispEdges" fill="#000">
<rect x="5" y="545" width="1" height="3"/>
<rect x="69" y="545" width="1" height="3"/>
<rect x="133" y="545" width="1" height="3"/>
<rect x="197" y="545" width="1" height="3"/>
<rect x="261" y="545" width="1" height="3"/>
<rect x="325" y="545" width="1" height="3"/>
<rect x="389" y="545" width="1" height="3"/>
<rect x="453" y="545" width="1" height="3"/>
<rect x="517" y="545" width="1" height="3"/>
<rect x="581" y="545" width="1" height="3"/>
<rect x="645" y="545" width="1" height="3"/>
<rect x="709" y="545" width="1" height="3"/>
<rect x="773" y="545" width="1" height="3"/>
<rect x="837" y="545" width="1" height="3"/>
<rect x="901" y="545" width="1" height="3"/>
</g>
<text transform="translate(4.3,557) scale(0.932,1)" font-size="9.8" class="t" fill="#000">11 Dec 2025</text>
<text transform="translate(68.3,557) scale(0.932,1)" font-size="9.8" class="t" fill="#000">14 Dec 04:00</text>
<text transform="translate(132.3,557) scale(0.932,1)" font-size="9.8" class="t" fill="#000">16 Dec 20:00</text>
<text transform="translate(196.3,557) scale(0.932,1)" font-size="9.8" class="t" fill="#000">19 Dec 12:00</text>
<text transform="translate(260.3,557) scale(0.932,1)" font-size="9.8" class="t" fill="#000">22 Dec 04:00</text>
<text transform="translate(324.3,557) scale(0.932,1)" font-size="9.8" class="t" fill="#000">26 Dec 01:00</text>
<text transform="translate(388.3,557) scale(0.932,1)" font-size="9.8" class="t" fill="#000">28 Dec 16:00</text>
<text transform="translate(452.3,557) scale(0.932,1)" font-size="9.8" class="t" fill="#000">2 Jan 09:00</text>
<text transform="translate(516.3,557) scale(0.932,1)" font-size="9.8" class="t" fill="#000">5 Jan 00:00</text>
<text transform="translate(580.3,557) scale(0.932,1)" font-size="9.8" class="t" fill="#000">7 Jan 16:00</text>
<text transform="translate(644.3,557) scale(0.932,1)" font-size="9.8" class="t" fill="#000">10 Jan 08:00</text>
<text transform="translate(708.3,557) scale(0.932,1)" font-size="9.8" class="t" fill="#000">13 Jan 00:00</text>
<text transform="translate(772.3,557) scale(0.932,1)" font-size="9.8" class="t" fill="#000">15 Jan 16:00</text>
<text transform="translate(836.3,557) scale(0.932,1)" font-size="9.8" class="t" fill="#000">18 Jan 08:00</text>
<text transform="translate(900.3,557) scale(0.932,1)" font-size="9.8" class="t" fill="#000">21 Jan 00:00</text>
</svg>
</body></html>
